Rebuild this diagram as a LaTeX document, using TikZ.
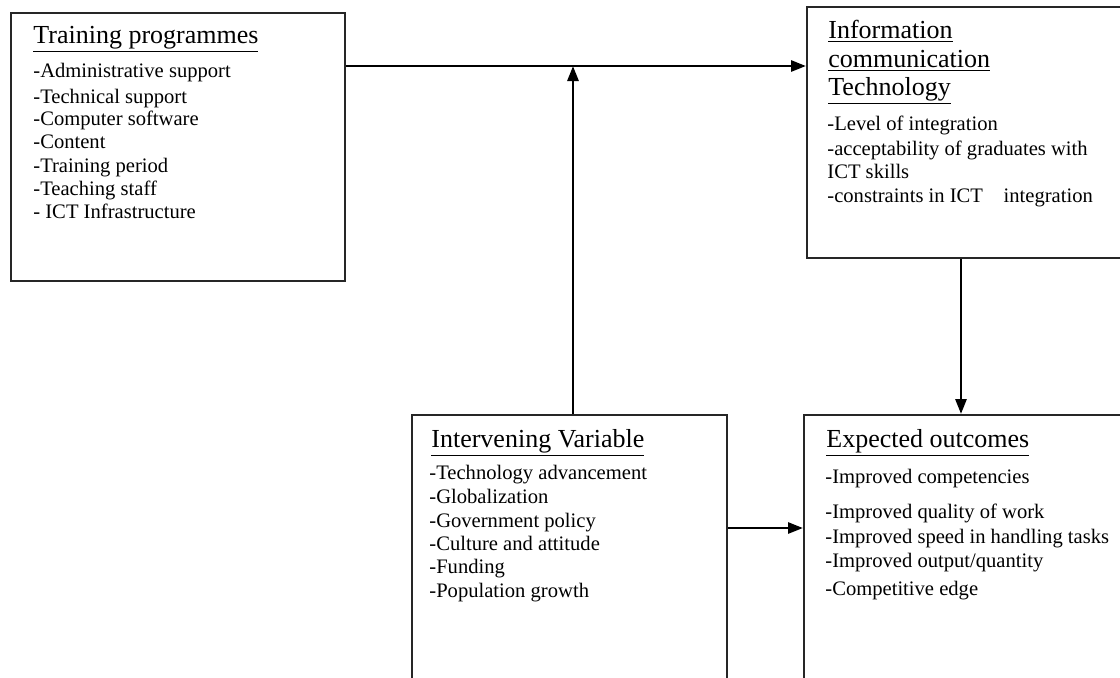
\documentclass[tikz,border=0pt]{standalone}
\usepackage{fontspec}
\setmainfont{Liberation Serif}
\usetikzlibrary{arrows.meta}

\tikzset{
  box/.style={draw=black!85, line width=1pt, anchor=north west, inner sep=0pt},
  head/.style={anchor=base west, inner sep=0pt, font=\fontsize{13}{15}\selectfont},
  entry/.style={anchor=base west, inner sep=0pt, font=\fontsize{10.3}{12}\selectfont},
  link/.style={line width=1.4pt, -{Triangle[length=7.5pt,width=5.5pt]}}
}

\begin{document}
\begin{tikzpicture}[x=0.5pt,y=-0.5pt]
 \useasboundingbox (0,0) rectangle (1120,677);

 % the four boxes
 \node[box, minimum width=167pt, minimum height=134pt] (train) at (10,12) {};
 \node[box, minimum width=170pt, minimum height=125.5pt] (ict) at (806,6) {};
 \node[box, minimum width=157.5pt, minimum height=150pt] (inter) at (411,414) {};
 \node[box, minimum width=170pt, minimum height=150pt] (outc) at (803,414) {};

 % headings
 \node[head] (trainT) at (33,43) {\underline{Training programmes}};
 \node[head] (ictT1) at (828,38) {\underline{Information}};
 \node[head] (ictT2) at (828,67) {\underline{communication}};
 \node[head] (ictT3) at (828,95) {\underline{Technology}};
 \node[head] (interT) at (431,447) {\underline{Intervening Variable}};
 \node[head] (outcT) at (826,447) {\underline{Expected outcomes}};

 % entries
 \foreach \y/\t [count=\i] in {77/{-Administrative support}, 103/{-Technical support},
   125/{-Computer software}, 148/{-Content}, 172/{-Training period},
   195/{-Teaching staff}, 218/{- ICT Infrastructure}}
   \node[entry] (train\i) at (33,\y) {\t};

 \foreach \y/\t [count=\i] in {130/{-Level of integration},
   155/{-acceptability of graduates with}, 178/{ICT skills},
   202/{-constraints in ICT\quad integration}}
   \node[entry] (ict\i) at (827,\y) {\t};

 \foreach \y/\t [count=\i] in {479/{-Technology advancement}, 503/{-Globalization},
   527/{-Government policy}, 550/{-Culture and attitude}, 573/{-Funding},
   597/{-Population growth}}
   \node[entry] (inter\i) at (429,\y) {\t};

 \foreach \y/\t [count=\i] in {483/{-Improved competencies}, 518/{-Improved quality of work},
   543/{-Improved speed in handling tasks}, 567/{-Improved output/quantity},
   595/{-Competitive edge}}
   \node[entry] (outc\i) at (825,\y) {\t};

 % connectors
 \coordinate (meet) at (573,66);
 \coordinate (drop) at (961,0);
 \coordinate (side) at (0,528);
 \draw[link] (train.east |- meet) -- (ict.west |- meet);
 \draw[link] (inter.north -| meet) -- (meet);
 \draw[link] (ict.south -| drop) -- (outc.north -| drop);
 \draw[link] (inter.east |- side) -- (outc.west |- side);
\end{tikzpicture}
\end{document}
